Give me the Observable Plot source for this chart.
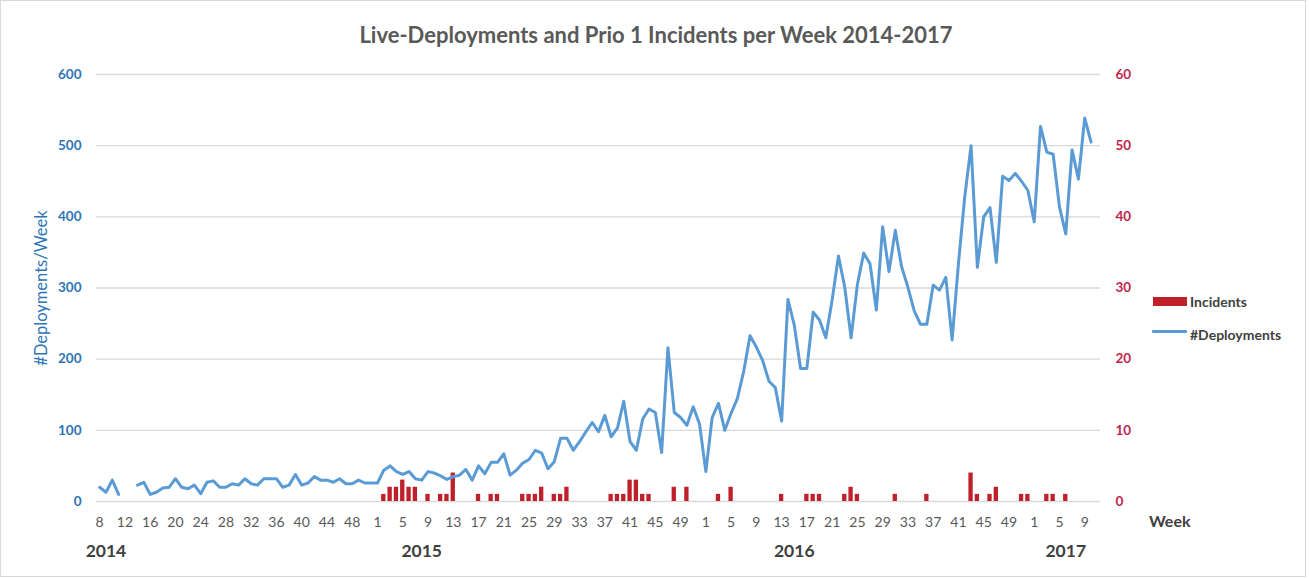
<!DOCTYPE html>
<html>
<head>
<meta charset="utf-8">
<script src="https://cdn.jsdelivr.net/npm/d3@7"></script>
<script src="https://cdn.jsdelivr.net/npm/@observablehq/plot@0.6"></script>
<style>
  body { margin: 0; background: #fff; font-family: Lato, "Open Sans", sans-serif; }
  #wrap { position: relative; width: 1309px; height: 578px; overflow: hidden; background: #fff; }
  #frame { position: absolute; left: 0; top: 0; width: 1306px; height: 577px; border: 1px solid #d9d9d9; box-sizing: border-box; pointer-events: none; }
  #title { position: absolute; left: 0; width: 1312px; top: 21px; text-align: center; font: bold 22px Lato, sans-serif; color: #595959; line-height: 28px; }
  #chart { position: absolute; left: 0; top: 0; }
  .leg { position: absolute; font: bold 14px Lato, sans-serif; color: #404040; line-height: 16px; }
  #week { position: absolute; left: 1149px; top: 511px; font: bold 16px Lato, sans-serif; color: #404040; line-height: 20px; }
</style>
</head>
<body>
<div id="wrap">
  <div id="title">Live-Deployments and Prio 1 Incidents per Week 2014-2017</div>
  <div id="chart"></div>
  <div style="position:absolute;left:1153px;top:297px;width:34px;height:9px;background:#c0202a"></div>
  <div class="leg" style="left:1190px;top:294px">Incidents</div>
  <div style="position:absolute;left:1152px;top:330px;width:35px;height:3px;background:#5b9bd5;border-radius:1px"></div>
  <div class="leg" style="left:1190px;top:327px">#Deployments</div>
  <div id="week">Week</div>
  <div id="frame"></div>
</div>
<script>
// ---- categories (ISO weeks per year) ----
const weeks2014 = [8,9,10,11,12,13,14,15,16,17,18,19,20,21,22,23,24,25,26,27,28,29,30,31,32,33,34,35,36,37,38,39,40,41,42,43,44,45,46,47,48,49,50,51];
const weeks2015 = [1,2,3,4,5,6,7,8,9,10,11,12,13,14,15,16,17,18,19,20,21,22,23,24,25,26,27,28,29,30,31,32,33,34,35,36,37,38,39,40,41,42,43,44,45,46,47,48,49,50,51,52];
const weeks2016 = [1,2,3,4,5,6,7,8,9,10,11,12,13,14,15,16,17,18,19,20,21,22,23,24,25,26,27,28,29,30,31,32,33,34,35,36,37,38,39,40,41,42,43,44,45,46,47,48,49,50,51,52];
const weeks2017 = [1,2,3,4,5,6,7,8,9,10,11];

// ---- #Deployments per week ----
const deployments2014 = [20,13,30,10,null,null,23,27,10,13,19,20,32,20,18,23,11,27,29,20,20,25,23,32,25,23,32,32,32,20,23,38,23,26,35,30,30,27,32,25,25,30,26,26];
const deployments2015 = [26,44,50,42,38,42,32,30,42,40,36,31,35,37,45,30,50,39,55,55,67,37,44,54,59,72,68,46,56,89,89,72,84,98,111,98,121,91,103,141,84,72,116,130,125,69,216,125,118,107,133,109];
const deployments2016 = [42,118,138,100,124,145,183,233,217,198,169,160,113,284,248,187,187,266,255,230,283,345,301,230,305,349,334,269,386,323,381,330,301,268,249,249,304,297,315,227,334,428,500,329,400,413,336,457,451,461,450,437];
const deployments2017 = [393,527,491,488,414,376,494,453,539,505,null];

// ---- Prio 1 incidents per week ----
const incidents2014 = [0,0,0,0,0,0,0,0,0,0,0,0,0,0,0,0,0,0,0,0,0,0,0,0,0,0,0,0,0,0,0,0,0,0,0,0,0,0,0,0,0,0,0,0];
const incidents2015 = [0,1,2,2,3,2,2,0,1,0,1,1,4,0,0,0,1,0,1,1,0,0,0,1,1,1,2,0,1,1,2,0,0,0,0,0,0,1,1,1,3,3,1,1,0,0,0,2,0,2,0,0];
const incidents2016 = [0,0,1,0,2,0,0,0,0,0,0,0,1,0,0,0,1,1,1,0,0,0,1,2,1,0,0,0,0,0,1,0,0,0,0,1,0,0,0,0,0,0,4,1,0,1,2,0,0,0,1,1];
const incidents2017 = [0,0,1,1,0,1,0,0,0,0,0];

// ---- tick labels ----
const xTicks2014 = [8,12,16,20,24,28,32,36,40,44,48];
const xTicks2015 = [1,5,9,13,17,21,25,29,33,37,41,45,49];
const xTicks2016 = [1,5,9,13,17,21,25,29,33,37,41,45,49];
const xTicks2017 = [1,5,9];
const yTicks = [0,100,200,300,400,500,600];
const yearLabels = ["2014","2015","2016","2017"];
const yearLabelWeeks = [9,8,15,6];

// ---- build table ----
const years = [2014,2015,2016,2017];
const weeksBy = {2014: weeks2014, 2015: weeks2015, 2016: weeks2016, 2017: weeks2017};
const depBy = {2014: deployments2014, 2015: deployments2015, 2016: deployments2016, 2017: deployments2017};
const incBy = {2014: incidents2014, 2015: incidents2015, 2016: incidents2016, 2017: incidents2017};
const ticksBy = {2014: xTicks2014, 2015: xTicks2015, 2016: xTicks2016, 2017: xTicks2017};
const rows = [];
for (const yr of years) {
  weeksBy[yr].forEach((w, i) => rows.push({key: yr + "-" + w, week: w, deployments: depBy[yr][i], incidents: incBy[yr][i]}));
}
const xTickKeys = years.flatMap(yr => ticksBy[yr].map(w => yr + "-" + w));
const yearRows = years.map((yr, i) => ({key: yr + "-" + yearLabelWeeks[i], label: yearLabels[i]}));

const chart = Plot.plot({
  width: 1309,
  height: 578,
  marginTop: 74,
  marginBottom: 77,
  marginLeft: 96,
  marginRight: 209,
  style: {fontFamily: "Lato, sans-serif", background: "transparent", overflow: "visible"},
  x: {type: "band", domain: rows.map(d => d.key), padding: 0, axis: null},
  y: {domain: [0, 600], axis: null},
  marks: [
    Plot.gridY(yTicks, {stroke: "#d9d9d9", strokeOpacity: 1, strokeWidth: 1.4}),
    Plot.barY(rows.filter(d => d.incidents > 0), {x: "key", y: d => d.incidents * 10, fill: "#c0202a", insetLeft: 1, insetRight: 1}),
    Plot.lineY(rows, {x: "key", y: "deployments", stroke: "#5b9bd5", strokeWidth: 3, strokeLinejoin: "round", strokeLinecap: "round"}),
    Plot.axisY(yTicks, {anchor: "left", tickSize: 0, tickPadding: 15, fill: "#2e75b6", fontWeight: "bold", fontSize: 13.5, label: null}),
    Plot.axisY(yTicks, {anchor: "right", tickSize: 0, tickPadding: 15, tickFormat: d => d / 10, fill: "#c0244e", fontWeight: "bold", fontSize: 13.5, label: null}),
    Plot.text(["#Deployments/Week"], {frameAnchor: "left", textAnchor: "middle", rotate: -90, dx: -55, fill: "#2e75b6", fontSize: 16.5}),
    Plot.axisX(xTickKeys, {anchor: "bottom", tickSize: 0, tickPadding: 16, tickFormat: k => k.split("-")[1], fill: "#595959", fontSize: 14, label: null}),
    Plot.text(yearRows, {x: "key", text: "label", frameAnchor: "bottom", dy: 55, fontWeight: "bold", fontSize: 17.5, fill: "#404040"})
  ]
});
document.getElementById("chart").appendChild(chart);
</script>
</body>
</html>
